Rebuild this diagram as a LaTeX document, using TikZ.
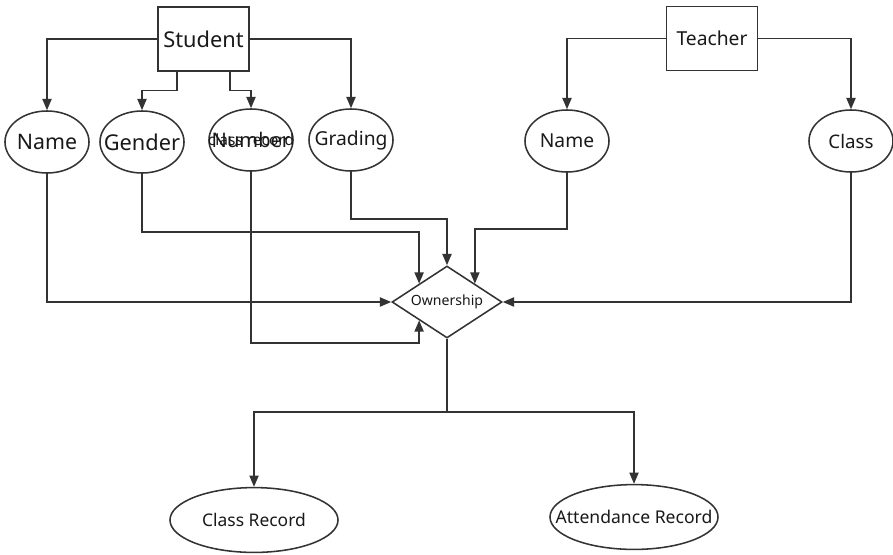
\documentclass[tikz,border=0pt]{standalone}
\usepackage{fontspec}
\setmainfont{Noto Sans}
\usetikzlibrary{shapes.geometric, arrows.meta}
\definecolor{linecol}{RGB}{51,51,51}
\definecolor{textcol}{RGB}{25,25,25}
% zero width text, so the shape keeps its own size
\newcommand{\ztext}[1]{\makebox[0pt]{#1}}

\begin{document}
\begin{tikzpicture}[
	x=0.025cm, y=-0.025cm,
	text=textcol,
	entity/.style={
		draw=linecol,
		rectangle,
		line width=1.1pt,
		minimum width=2.27cm,
		minimum height=1.59cm,
		inner sep=0pt
	},
	attrib/.style={
		draw=linecol,
		ellipse,
		line width=1.1pt,
		minimum width=2.1cm,
		minimum height=1.55cm,
		inner sep=0pt
	},
	relation/.style={
		draw=linecol,
		diamond,
		line width=1.1pt,
		minimum width=2.75cm,
		minimum height=1.8cm,
		inner sep=0pt
	},
	record/.style={
		draw=linecol,
		ellipse,
		line width=1.1pt,
		minimum width=4.2cm,
		minimum height=1.62cm,
		inner sep=0pt
	},
	conn/.style={
		draw=linecol,
		line width=1.1pt
	},
	link/.style={
		conn,
		-{Triangle[length=8pt,width=6.5pt]}
	}
	]
	\useasboundingbox (0,0) rectangle (893,554);
	
	% Entities
	\node[entity, font=\fontsize{15.5}{18}\selectfont] (student) at (203.5,39) {Student};
	\node[entity, font=\fontsize{13.7}{16}\selectfont] (teacher) at (712,38.5) {Teacher};
	
	% Attributes
	\node[attrib, font=\fontsize{15.2}{18}\selectfont] (sname) at (47,142) {\ztext{Name}};
	\node[attrib, font=\fontsize{15.5}{18}\selectfont] (gender) at (142,142) {\ztext{Gender}};
	\node[attrib, font=\fontsize{14.3}{17}\selectfont,
		label={[font=\fontsize{11}{13}\selectfont]center:class record}] (number) at (251,140) {\ztext{Number}};
	\node[attrib, font=\fontsize{13.7}{16}\selectfont] (grading) at (351,140) {\ztext{Grading}};
	\node[attrib, font=\fontsize{13.7}{16}\selectfont] (tname) at (567,141) {\ztext{Name}};
	\node[attrib, font=\fontsize{13.3}{16}\selectfont] (tclass) at (851,141) {\ztext{Class}};
	
	% Relationship and records
	\node[relation, font=\fontsize{10}{12}\selectfont] (own) at (447,302) {\ztext{Ownership}};
	\node[record, font=\fontsize{12.4}{15}\selectfont] (crec) at (254,520) {\ztext{Class Record}};
	\node[record, font=\fontsize{12.5}{15}\selectfont] (arec) at (634,517) {\ztext{Attendance Record}};
	
	% Entity to attribute
	\draw[link] (student.west) -| (sname);
	\draw[link] ([xshift=-0.66cm]student.south) -- ++(0,19) -| (gender);
	\draw[link] ([xshift=0.66cm]student.south) -- ++(0,19) -| (number);
	\draw[link] (student.east) -| (grading);
	\draw[link] (teacher.west) -| (tname);
	\draw[link] (teacher.east) -| (tclass);
	
	% Attribute to relationship
	\draw[link] (sname) |- (own.west);
	\draw[link] (gender.south) -- ++(0,58) -| (own.north west);
	\draw[link] (number.south) -- ++(0,171) -| (own.south west);
	\draw[link] (grading.south) -- ++(0,47) -| (own.north);
	\draw[link] (tname.south) -- ++(0,56) -| (own.north east);
	\draw[link] (tclass) |- (own.east);
	
	% Relationship to records
	\draw[conn] (own.south) -- ++(0,73) coordinate (split);
	\draw[link] (split) -| (crec);
	\draw[link] (split) -| (arec);
\end{tikzpicture}
\end{document}
